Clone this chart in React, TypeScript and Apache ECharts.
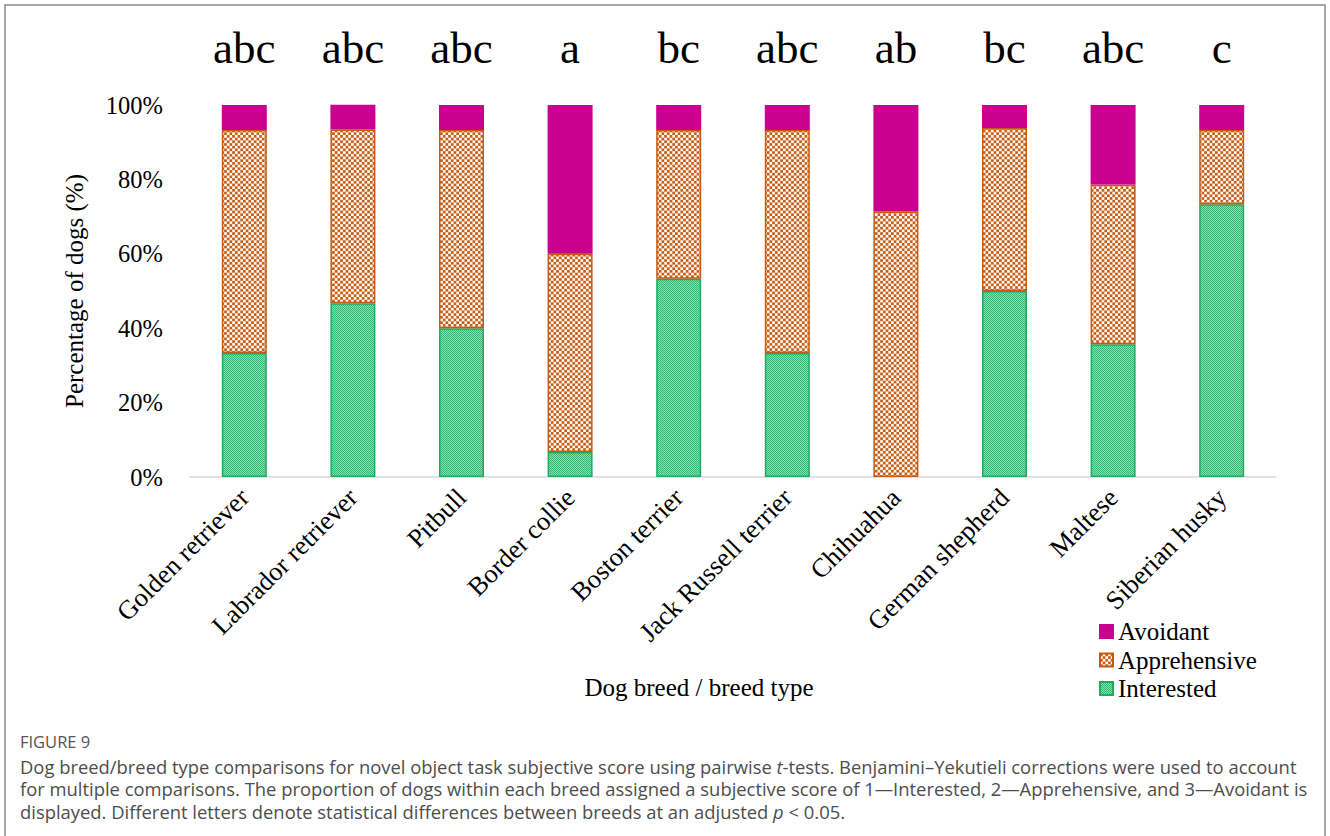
import React, { useEffect, useRef } from 'react';
import * as echarts from 'echarts';

const breeds = [
  'Golden retriever',
  'Labrador retriever',
  'Pitbull',
  'Border collie',
  'Boston terrier',
  'Jack Russell terrier',
  'Chihuahua',
  'German shepherd',
  'Maltese',
  'Siberian husky',
];
const letters = ['abc', 'abc', 'abc', 'a', 'bc', 'abc', 'ab', 'bc', 'abc', 'c'];
const interested = [33.3, 46.7, 40.0, 6.7, 53.3, 33.3, 0, 50.0, 35.7, 73.3];
const apprehensive = [60.0, 46.7, 53.3, 53.3, 40.0, 60.0, 71.4, 43.8, 42.9, 20.0];
const avoidant = [6.7, 6.7, 6.7, 40.0, 6.7, 6.7, 28.6, 6.2, 21.4, 6.7];
const seriesNames = ['Interested', 'Apprehensive', 'Avoidant'];
const legendOrder = ['Avoidant', 'Apprehensive', 'Interested'];

const captionTitle = 'FIGURE 9';
const captionLines = [
  '{n|Dog breed/breed type comparisons for novel object task subjective score using pairwise }{i|t}{n|-tests. Benjamini\u2013Yekutieli corrections were used to account}',
  '{n|for multiple comparisons. The proportion of dogs within each breed assigned a subjective score of 1\u2014Interested, 2\u2014Apprehensive, and 3\u2014Avoidant is}',
  '{n|displayed. Different letters denote statistical differences between breeds at an adjusted }{i|p}{n| < 0.05.}',
];

const SERIF = "'Liberation Serif', 'Times New Roman', serif";
const SANS = "'Open Sans', 'Noto Sans', sans-serif";

function checkerPattern(c1: string, c2: string, cell: number, display: number) {
  const size = cell * 2;
  const cv = document.createElement('canvas');
  cv.width = size;
  cv.height = size;
  const ctx = cv.getContext('2d')!;
  ctx.fillStyle = c2;
  ctx.fillRect(0, 0, size, size);
  ctx.fillStyle = c1;
  ctx.fillRect(0, 0, cell, cell);
  ctx.fillRect(cell, cell, cell, cell);
  return {
    image: cv.toDataURL(),
    repeat: 'repeat',
    imageWidth: display,
    imageHeight: display,
  };
}

export default function App() {
  const ref = useRef<HTMLDivElement>(null);
  useEffect(() => {
    document.body.style.margin = '0';
    const chart = echarts.init(ref.current!, null, { renderer: 'svg' });
    const orange = '#C65A11';
    const green = '#1FAA5E';
    const magenta = '#C90090';
    const orangeFill = checkerPattern(orange, '#ffffff', 5, 5.4);
    const greenFill = checkerPattern('#35b574', '#93dab2', 1, 2);
    const fills = [greenFill, orangeFill, magenta];
    const borders = [green, orange, magenta];
    const values = [interested, apprehensive, avoidant];

    const series = seriesNames.map((name, si) => ({
      name,
      type: 'bar',
      stack: 'total',
      barWidth: 45,
      xAxisIndex: 0,
      itemStyle: { color: fills[si], borderColor: borders[si], borderWidth: 1.5 },
      data: values[si].map((v) => (v === 0 ? { value: v, itemStyle: { borderWidth: 0 } } : v)),
    }));

    const option = {
      animation: false,
      backgroundColor: '#ffffff',
      grid: { left: 190, right: 54, top: 105, bottom: 359, containLabel: false },
      legend: {
        data: legendOrder,
        orient: 'vertical',
        left: 1099,
        top: 619,
        padding: 0,
        itemWidth: 13,
        itemHeight: 13,
        itemGap: 3.5,
        icon: 'rect',
        textStyle: { fontFamily: SERIF, fontSize: 25, color: '#000', lineHeight: 25 },
      },
      xAxis: [
        {
          type: 'category',
          data: breeds,
          position: 'bottom',
          axisLine: { show: true, lineStyle: { color: '#d9d9d9', width: 1.5 } },
          axisTick: { show: false },
          axisLabel: {
            rotate: 45,
            interval: 0,
            margin: 16,
            fontFamily: SERIF,
            fontSize: 26.5,
            color: '#000',
          },
          name: 'Dog breed / breed type',
          nameLocation: 'middle',
          nameGap: 198,
          nameTextStyle: {
            fontFamily: SERIF,
            fontSize: 25,
            color: '#000',
            padding: [0, 68, 0, 0],
          },
        },
        {
          type: 'category',
          data: letters,
          position: 'top',
          axisLine: { show: false },
          axisTick: { show: false },
          axisLabel: {
            interval: 0,
            margin: 35,
            fontFamily: SERIF,
            fontSize: 45,
            color: '#000',
          },
        },
      ],
      yAxis: {
        type: 'value',
        min: 0,
        max: 100,
        interval: 20,
        axisLine: { show: false },
        axisTick: { show: false },
        splitLine: { show: false },
        axisLabel: {
          formatter: '{value}%',
          margin: 27,
          fontFamily: SERIF,
          fontSize: 24.5,
          color: '#000',
        },
        name: 'Percentage of dogs (%)',
        nameLocation: 'middle',
        nameGap: 103,
        nameTextStyle: { fontFamily: SERIF, fontSize: 25, color: '#000' },
      },
      graphic: [
        {
          type: 'rect',
          silent: true,
          z: -10,
          shape: { x: 5, y: 5, width: 1320, height: 900 },
          style: { fill: 'none', stroke: '#8a8a8a', lineWidth: 1.5 },
        },
        {
          type: 'text',
          x: 20,
          y: 741,
          style: {
            text: captionTitle,
            fontFamily: SANS,
            fontSize: 16.5,
            fill: '#555555',
            verticalAlign: 'middle',
          },
        },
        ...captionLines.map((t, i) => ({
          type: 'text',
          x: 20,
          y: 766 + i * 22.5,
          style: {
            text: t,
            verticalAlign: 'middle',
            rich: {
              n: { fontFamily: SANS, fontSize: 18.4, fill: '#4d4d4d' },
              i: { fontFamily: SANS, fontSize: 18.4, fill: '#4d4d4d', fontStyle: 'italic' },
            },
          },
        })),
      ],
      series,
    };
    chart.setOption(option as any);
    return () => chart.dispose();
  }, []);
  return <div ref={ref} style={{ width: 1330, height: 836 }} />;
}
